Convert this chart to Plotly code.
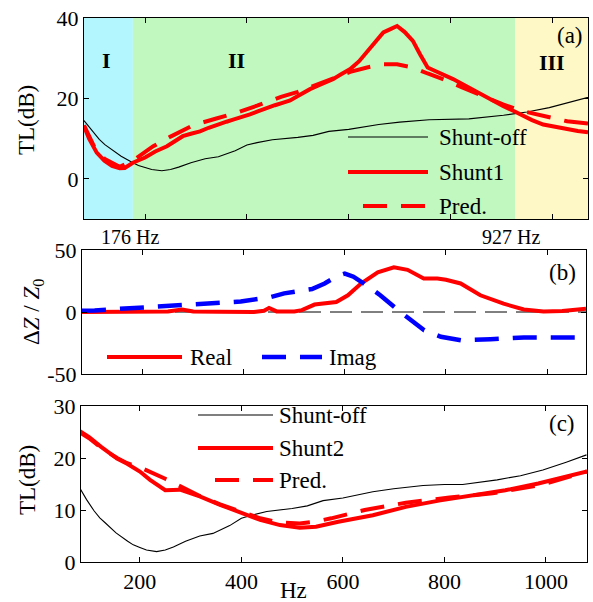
import plotly.graph_objects as go

W, H = 593, 602

# ---------------- data ----------------
# Shunt-off (same measurement in panels a and c)
hz_off = [80, 95, 110, 121, 131, 153, 176, 187, 200, 213, 233, 250, 266, 290, 318, 344, 377,
          400, 420, 450, 500, 530, 561, 600, 659, 700, 758, 800, 836, 904, 950, 994, 1040, 1080]
tl_off = [14.5, 12.0, 9.8, 8.5, 7.6, 5.6, 4.0, 3.3, 2.8, 2.3, 2.0, 2.3, 2.9, 4.0, 5.0, 5.5, 7.0,
          8.4, 9.0, 9.7, 10.3, 10.8, 11.8, 12.3, 13.5, 14.1, 14.7, 14.9, 14.9, 15.8, 16.6, 17.7, 19.2, 20.6]

# Panel (a): Shunt1 measured and prediction
hz_s1 = [80, 90, 105, 120, 135, 150, 160, 176, 200, 220, 243, 260, 274, 290, 308, 325, 341, 360,
         373, 390, 406, 420, 439, 455, 470, 485, 500, 524, 545, 569, 585, 603, 620, 636, 652, 668,
         683, 695, 710, 726, 740, 755, 770, 785, 805, 824, 845, 864, 885, 903, 925, 943, 960, 982,
         1005, 1029, 1050, 1070]
tl_s1 = [13.1, 10.0, 6.5, 4.5, 3.2, 2.6, 2.7, 4.0, 5.3, 6.8, 8.1, 9.5, 10.6, 11.2, 11.8, 12.7, 13.5, 14.2,
         14.7, 15.3, 16.0, 16.7, 17.7, 18.3, 18.9, 19.5, 20.6, 22.3, 23.5, 24.8, 26.0, 27.3, 29.2, 31.5, 34.0, 36.4,
         37.3, 38.0, 36.5, 34.3, 31.0, 27.7, 26.8, 26.0, 24.8, 23.5, 22.0, 20.6, 19.3, 18.1, 16.8, 15.6, 14.6, 13.5,
         12.9, 12.3, 11.9, 11.6]
hz_p1 = [80, 100, 120, 150, 176, 200, 216, 250, 294, 340, 381, 420, 467, 500, 524, 569, 603, 636,
         668, 695, 726, 755, 785, 824, 864, 903, 943, 982, 1029, 1070]
tl_p1 = [13.3, 8.0, 5.0, 3.0, 4.5, 6.8, 8.1, 10.5, 13.3, 15.0, 16.5, 18.2, 20.4, 21.6, 22.8, 25.0, 26.6, 27.7,
         28.5, 28.5, 27.7, 26.2, 24.8, 22.7, 20.6, 18.5, 16.8, 15.6, 14.3, 13.75]

# Panel (b): impedance change
hz_re = [80, 150, 250, 278, 300, 350, 420, 440, 450, 465, 500, 515, 540, 583, 606, 632, 665, 697,
         724, 756, 783, 800, 829, 868, 914, 954, 993, 1030, 1077]
dz_re = [0, 0.3, 0.5, 2.0, 0.5, 0.2, 0, 1.0, 3.3, 0.5, 0.5, 1.5, 6.0, 8.0, 13.5, 23.0, 32.0, 36.0,
         34.0, 27.0, 27.0, 26.0, 23.0, 13.5, 6.7, 2.0, 0.5, 0.8, 2.7]
hz_im = [80, 105, 214, 313, 394, 453, 480, 510, 535, 560, 585, 600, 617, 645, 670, 706, 757, 790,
         830, 888, 954, 1077]
dz_im = [1.0, 1.3, 4.0, 6.0, 8.5, 12.0, 15.0, 17.0, 18.5, 23.0, 29.0, 31.0, 28.5, 21.0, 13.5, 1.3, -14.8, -20.0,
         -22.8, -22.0, -20.6, -20.6]

# Panel (c): Shunt2 measured and prediction
hz_s2 = [80, 100, 123, 155, 175, 200, 220, 239, 250, 279, 318, 358, 400, 437, 476, 515, 547, 591,
         659, 724, 789, 854, 920, 985, 1030, 1081]
tl_s2 = [25.3, 24.0, 22.2, 19.9, 18.9, 17.4, 15.8, 14.5, 13.8, 13.9, 12.6, 11.0, 9.4, 8.1, 7.1, 6.6, 6.8, 7.75,
         9.0, 10.6, 11.8, 12.7, 13.8, 15.1, 16.1, 17.4]
hz_p2 = [80, 100, 123, 155, 175, 200, 250, 285, 318, 358, 400, 437, 476, 515, 547, 577, 643, 724,
         810, 895, 994, 1081]
tl_p2 = [25.0, 23.8, 22.0, 20.0, 19.0, 18.2, 16.0, 14.2, 12.7, 11.1, 9.6, 8.4, 7.6, 7.4, 7.8, 8.4, 10.0, 11.4,
         12.4, 13.2, 14.9, 17.4]

# region boundaries and labels
region_edges = [80, 176, 927, 1070]
region_names = ["I", "II", "III"]
region_colors = ["#b3f6fd", "#c0f8c0", "#fdf8c6"]
xticks = [200, 400, 600, 800, 1000]

# ---------------- figure ----------------
FONT = "Liberation Serif"
RED, BLUE = "#ff0000", "#0000ff"


def fx(px):
    return px / W


def fy(py):
    return 1 - py / H


fig = go.Figure()

# panel (a)
fig.add_trace(go.Scatter(x=hz_off, y=tl_off, xaxis="x", yaxis="y", mode="lines",
                         line=dict(color="black", width=1.1), showlegend=False))
fig.add_trace(go.Scatter(x=hz_s1, y=tl_s1, xaxis="x", yaxis="y", mode="lines",
                         line=dict(color=RED, width=4), showlegend=False))
fig.add_trace(go.Scatter(x=hz_p1, y=tl_p1, xaxis="x", yaxis="y", mode="lines",
                         line=dict(color=RED, width=4, dash="24px,14px"), showlegend=False))
# panel (b)
fig.add_trace(go.Scatter(x=hz_re, y=dz_re, xaxis="x2", yaxis="y2", mode="lines",
                         line=dict(color=RED, width=4), showlegend=False))
fig.add_trace(go.Scatter(x=hz_im, y=dz_im, xaxis="x2", yaxis="y2", mode="lines",
                         line=dict(color=BLUE, width=4.5, dash="24px,14px"), showlegend=False))
# panel (c)
fig.add_trace(go.Scatter(x=hz_off, y=tl_off, xaxis="x3", yaxis="y3", mode="lines",
                         line=dict(color="black", width=1.1), showlegend=False))
fig.add_trace(go.Scatter(x=hz_s2, y=tl_s2, xaxis="x3", yaxis="y3", mode="lines",
                         line=dict(color=RED, width=4), showlegend=False))
fig.add_trace(go.Scatter(x=hz_p2, y=tl_p2, xaxis="x3", yaxis="y3", mode="lines",
                         line=dict(color=RED, width=4, dash="24px,14px"), showlegend=False))

shapes = []
for i in range(3):
    shapes.append(dict(type="rect", xref="x", yref="y domain", x0=region_edges[i], x1=region_edges[i + 1],
                       y0=0, y1=1, fillcolor=region_colors[i], line=dict(width=0), layer="below"))
# zero reference in (b)
shapes.append(dict(type="line", xref="x2 domain", yref="y2", x0=0, x1=1, y0=0, y1=0,
                   line=dict(color="black", width=1, dash="22px,9px"), layer="below"))


def leg_line(x0, x1, y, color, width, dash="solid"):
    shapes.append(dict(type="line", xref="paper", yref="paper", x0=fx(x0), x1=fx(x1), y0=fy(y), y1=fy(y),
                       line=dict(color=color, width=width, dash=dash)))


annotations = []


def txt(x, y, s, size=23, xanchor="left", angle=0):
    annotations.append(dict(x=fx(x), y=fy(y), xref="paper", yref="paper", text=s,
                            showarrow=False, xanchor=xanchor, yanchor="middle", textangle=angle,
                            font=dict(family=FONT, size=size, color="black")))


# legend (a)
leg_line(348, 428, 137, "black", 1.1)
leg_line(348, 428, 172, RED, 4)
leg_line(363, 428, 206, RED, 4, "24px,14px")
txt(437, 137, "Shunt-off")
txt(437, 172, "Shunt1")
txt(437, 206, "Pred.")
# legend (b)
leg_line(107, 182, 357, RED, 4)
leg_line(262, 322, 357, BLUE, 4.5, "24px,14px")
txt(188, 357, "Real")
txt(327, 357, "Imag")
# legend (c)
leg_line(198, 273, 415, "black", 1.1)
leg_line(198, 273, 448, RED, 4)
leg_line(215, 273, 480, RED, 4, "24px,14px")
txt(277, 415, "Shunt-off")
txt(277, 448, "Shunt2")
txt(277, 480, "Pred.")

# region labels
annotations.append(dict(x=(region_edges[0] + region_edges[1]) / 2 - 4, y=29.5, xref="x", yref="y",
                        text="<b>%s</b>" % region_names[0], showarrow=False,
                        font=dict(family=FONT, size=22, color="black")))
annotations.append(dict(x=380, y=29.5, xref="x", yref="y", text="<b>%s</b>" % region_names[1],
                        showarrow=False, font=dict(family=FONT, size=22, color="black")))
annotations.append(dict(x=1000, y=29.0, xref="x", yref="y", text="<b>%s</b>" % region_names[2],
                        showarrow=False, font=dict(family=FONT, size=22, color="black")))
# panel tags
txt(570, 36, "(a)", xanchor="center")
txt(562, 273, "(b)", xanchor="center")
txt(562, 423, "(c)", xanchor="center")
# frequency markers
annotations.append(dict(x=region_edges[1], y=fy(237), xref="x", yref="paper", text="176 Hz", showarrow=False,
                        xanchor="center", yanchor="middle", xshift=-3,
                        font=dict(family=FONT, size=20, color="black")))
annotations.append(dict(x=region_edges[2], y=fy(237), xref="x", yref="paper", text="927 Hz", showarrow=False,
                        xanchor="center", yanchor="middle", xshift=-4,
                        font=dict(family=FONT, size=20, color="black")))
# axis titles
txt(27, 120, "TL(dB)", size=23, xanchor="center", angle=-90)
txt(33, 312, "Δ<i>Z</i> / <i>Z</i><sub>0</sub>", size=23, xanchor="center", angle=-90)
txt(27, 480, "TL(dB)", size=23, xanchor="center", angle=-90)
txt(293, 590, "Hz", size=23, xanchor="center")

axis_common = dict(showline=True, linecolor="black", linewidth=1, mirror="ticks", ticks="inside",
                   ticklen=5, tickcolor="black", showgrid=False, zeroline=False, automargin=False,
                   tickfont=dict(family=FONT, size=22, color="black"))

fig.update_layout(
    width=W, height=H, autosize=False,
    margin=dict(l=0, r=0, t=0, b=0, pad=0),
    paper_bgcolor="white", plot_bgcolor="white",
    xaxis=dict(domain=[fx(84), fx(588)], range=[80, 1070], anchor="y", tickvals=xticks,
               showticklabels=False, **axis_common),
    yaxis=dict(domain=[fy(219), fy(18)], range=[-10, 40], anchor="x", tickvals=[0, 20, 40], **axis_common),
    xaxis2=dict(domain=[fx(82), fx(586)], range=[80, 1077], anchor="y2", tickvals=xticks,
                showticklabels=False, **axis_common),
    yaxis2=dict(domain=[fy(374), fy(250)], range=[-50, 50], anchor="x2", tickvals=[-50, 0, 50],
                ticktext=["-50", "0", "50"], **axis_common),
    xaxis3=dict(domain=[fx(81), fx(587)], range=[84, 1081], anchor="y3", tickvals=xticks, **axis_common),
    yaxis3=dict(domain=[fy(562), fy(406)], range=[0, 30], anchor="x3", tickvals=[0, 10, 20, 30], **axis_common),
    shapes=shapes,
    annotations=annotations,
)

fig.write_html("out.html", config={"displayModeBar": False},
               post_script="document.body.style.margin='0';document.body.style.overflow='hidden';")
